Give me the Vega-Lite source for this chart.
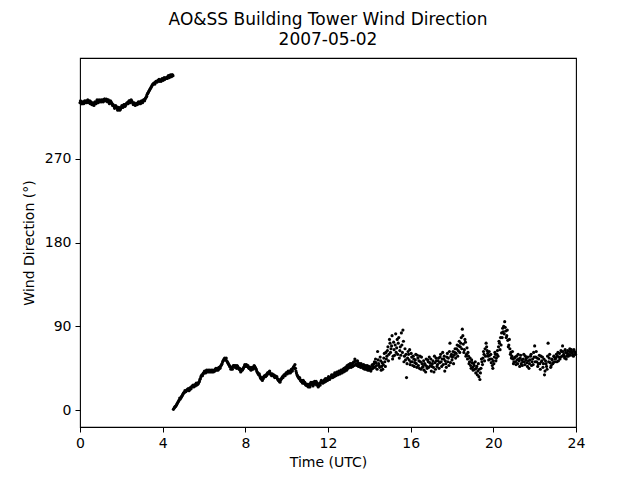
{
"$schema": "https://vega.github.io/schema/vega-lite/v6.json",
"width": 496, "height": 369,
"autosize": {"type": "none"},
"padding": {"left": 80, "top": 58, "right": 64, "bottom": 53},
"background": "white",
"config": {"view": {"stroke": "black", "strokeWidth": 1.1}, "font": "DejaVu Sans"},
"title": {"text": ["AO&SS Building Tower Wind Direction", "2007-05-02"], "fontSize": 17, "font": "DejaVu Sans", "fontWeight": "normal", "color": "black", "anchor": "middle", "lineHeight": 20, "offset": 9},
"data": {"values": [
{"t":0.00,"d":330},{"t":0.05,"d":331},{"t":0.10,"d":329},{"t":0.15,"d":330},{"t":0.20,"d":331},{"t":0.25,"d":330},{"t":0.30,"d":332},{"t":0.35,"d":331},{"t":0.40,"d":332},{"t":0.45,"d":331},
{"t":0.50,"d":329},{"t":0.55,"d":330},{"t":0.60,"d":328},{"t":0.65,"d":329},{"t":0.70,"d":329},{"t":0.75,"d":330},{"t":0.80,"d":331},{"t":0.85,"d":332},{"t":0.90,"d":331},{"t":0.95,"d":332},
{"t":1.00,"d":332},{"t":1.05,"d":331},{"t":1.10,"d":333},{"t":1.15,"d":332},{"t":1.20,"d":334},{"t":1.25,"d":333},{"t":1.30,"d":333},{"t":1.35,"d":332},{"t":1.40,"d":331},{"t":1.45,"d":330},
{"t":1.50,"d":331},{"t":1.55,"d":329},{"t":1.60,"d":328},{"t":1.65,"d":326},{"t":1.70,"d":325},{"t":1.75,"d":326},{"t":1.80,"d":324},{"t":1.85,"d":323},{"t":1.90,"d":324},{"t":1.95,"d":323},
{"t":2.00,"d":325},{"t":2.05,"d":326},{"t":2.10,"d":327},{"t":2.15,"d":328},{"t":2.20,"d":327},{"t":2.25,"d":329},{"t":2.30,"d":330},{"t":2.35,"d":331},{"t":2.40,"d":332},{"t":2.45,"d":331},
{"t":2.50,"d":332},{"t":2.55,"d":330},{"t":2.60,"d":329},{"t":2.65,"d":328},{"t":2.70,"d":328},{"t":2.75,"d":329},{"t":2.80,"d":330},{"t":2.85,"d":329},{"t":2.90,"d":331},{"t":2.95,"d":330},
{"t":3.00,"d":331},{"t":3.05,"d":332},{"t":3.10,"d":333},{"t":3.15,"d":334},{"t":3.20,"d":336},{"t":3.25,"d":339},{"t":3.30,"d":341},{"t":3.35,"d":343},{"t":3.40,"d":345},{"t":3.45,"d":347},
{"t":3.50,"d":349},{"t":3.55,"d":350},{"t":3.60,"d":351},{"t":3.65,"d":352},{"t":3.70,"d":353},{"t":3.75,"d":353},{"t":3.80,"d":354},{"t":3.85,"d":353},{"t":3.90,"d":354},{"t":3.95,"d":355},
{"t":4.00,"d":355},{"t":4.05,"d":356},{"t":4.10,"d":355},{"t":4.15,"d":356},{"t":4.20,"d":357},{"t":4.25,"d":358},{"t":4.30,"d":358},{"t":4.35,"d":359},{"t":4.40,"d":359},{"t":4.45,"d":360},{"t":4.50,"d":359},
{"t":0.025,"d":332},{"t":0.075,"d":329},{"t":0.125,"d":331},{"t":0.175,"d":329},{"t":0.225,"d":332},{"t":0.275,"d":331},{"t":0.325,"d":330},{"t":0.375,"d":333},{"t":0.425,"d":330},{"t":0.475,"d":332},
{"t":0.525,"d":331},{"t":0.575,"d":328},{"t":0.625,"d":330},{"t":0.675,"d":327},{"t":0.725,"d":331},{"t":0.775,"d":329},{"t":0.825,"d":333},{"t":0.875,"d":330},{"t":0.925,"d":333},{"t":0.975,"d":331},
{"t":1.025,"d":333},{"t":1.075,"d":332},{"t":1.125,"d":331},{"t":1.175,"d":334},{"t":1.225,"d":332},{"t":1.275,"d":334},{"t":1.325,"d":331},{"t":1.375,"d":333},{"t":1.425,"d":329},{"t":1.475,"d":332},
{"t":1.525,"d":330},{"t":1.575,"d":327},{"t":1.625,"d":327},{"t":1.675,"d":324},{"t":1.725,"d":327},{"t":1.775,"d":325},{"t":1.825,"d":322},{"t":1.875,"d":325},{"t":1.925,"d":322},{"t":1.975,"d":324},
{"t":2.025,"d":327},{"t":2.075,"d":325},{"t":2.125,"d":328},{"t":2.175,"d":326},{"t":2.225,"d":328},{"t":2.275,"d":330},{"t":2.325,"d":329},{"t":2.375,"d":332},{"t":2.425,"d":330},{"t":2.475,"d":333},
{"t":2.525,"d":331},{"t":2.575,"d":328},{"t":2.625,"d":330},{"t":2.675,"d":327},{"t":2.725,"d":329},{"t":2.775,"d":328},{"t":2.825,"d":331},{"t":2.875,"d":330},{"t":2.925,"d":329},{"t":2.975,"d":332},
{"t":3.025,"d":330},{"t":3.075,"d":333},{"t":3.125,"d":332},{"t":3.175,"d":335},{"t":3.225,"d":337},{"t":3.275,"d":340},{"t":3.325,"d":342},{"t":3.375,"d":344},{"t":3.425,"d":346},{"t":3.475,"d":348},
{"t":3.525,"d":350},{"t":3.575,"d":351},{"t":3.625,"d":350},{"t":3.675,"d":353},{"t":3.725,"d":352},{"t":3.775,"d":354},{"t":3.825,"d":355},{"t":3.875,"d":354},{"t":3.925,"d":353},{"t":3.975,"d":356},
{"t":4.025,"d":354},{"t":4.075,"d":357},{"t":4.125,"d":356},{"t":4.175,"d":357},{"t":4.225,"d":356},{"t":4.275,"d":359},{"t":4.325,"d":357},{"t":4.375,"d":360},{"t":4.425,"d":358},{"t":4.475,"d":360},
{"t":4.52,"d":1},{"t":4.55,"d":2},{"t":4.60,"d":4},{"t":4.65,"d":5},{"t":4.70,"d":7},{"t":4.75,"d":9},{"t":4.80,"d":11},{"t":4.85,"d":12},{"t":4.90,"d":14},{"t":4.95,"d":16},
{"t":5.00,"d":18},{"t":5.05,"d":19},{"t":5.10,"d":20},{"t":5.15,"d":21},{"t":5.20,"d":22},{"t":5.25,"d":23},{"t":5.30,"d":22},{"t":5.35,"d":24},{"t":5.40,"d":25},{"t":5.45,"d":26},
{"t":5.50,"d":25},{"t":5.55,"d":27},{"t":5.60,"d":28},{"t":5.65,"d":27},{"t":5.70,"d":28},{"t":5.75,"d":30},{"t":5.80,"d":33},{"t":5.85,"d":36},{"t":5.90,"d":38},{"t":5.95,"d":39},
{"t":6.00,"d":40},{"t":6.05,"d":41},{"t":6.10,"d":42},{"t":6.15,"d":41},{"t":6.20,"d":43},{"t":6.25,"d":42},{"t":6.30,"d":41},{"t":6.35,"d":43},{"t":6.40,"d":42},{"t":6.45,"d":41},
{"t":6.50,"d":43},{"t":6.55,"d":44},{"t":6.60,"d":43},{"t":6.65,"d":45},{"t":6.70,"d":44},{"t":6.75,"d":46},{"t":6.80,"d":47},{"t":6.85,"d":49},{"t":6.90,"d":52},{"t":6.95,"d":54},
{"t":7.00,"d":56},{"t":7.05,"d":55},{"t":7.10,"d":53},{"t":7.15,"d":51},{"t":7.20,"d":49},{"t":7.25,"d":47},{"t":7.30,"d":44},{"t":7.35,"d":45},{"t":7.40,"d":47},{"t":7.45,"d":48},
{"t":7.50,"d":46},{"t":7.55,"d":47},{"t":7.60,"d":48},{"t":7.65,"d":46},{"t":7.70,"d":44},{"t":7.75,"d":43},{"t":7.80,"d":42},{"t":7.85,"d":43},{"t":7.90,"d":45},{"t":7.95,"d":47},
{"t":8.00,"d":48},{"t":8.05,"d":49},{"t":8.10,"d":47},{"t":8.15,"d":46},{"t":8.20,"d":45},{"t":8.25,"d":44},{"t":8.30,"d":44},{"t":8.35,"d":45},{"t":8.40,"d":46},{"t":8.45,"d":47},
{"t":8.50,"d":45},{"t":8.55,"d":42},{"t":8.60,"d":40},{"t":8.65,"d":38},{"t":8.70,"d":37},{"t":8.75,"d":34},{"t":8.80,"d":33},{"t":8.85,"d":35},{"t":8.90,"d":36},{"t":8.95,"d":37},
{"t":9.00,"d":38},{"t":9.05,"d":39},{"t":9.10,"d":40},{"t":9.15,"d":41},{"t":9.20,"d":40},{"t":9.25,"d":38},{"t":9.30,"d":39},{"t":9.35,"d":37},{"t":9.40,"d":36},{"t":9.45,"d":37},
{"t":9.50,"d":35},{"t":9.55,"d":34},{"t":9.60,"d":32},{"t":9.65,"d":31},{"t":9.70,"d":32},{"t":9.75,"d":34},{"t":9.80,"d":36},{"t":9.85,"d":37},{"t":9.90,"d":38},{"t":9.95,"d":39},
{"t":10.00,"d":40},{"t":10.05,"d":41},{"t":10.10,"d":40},{"t":10.15,"d":42},{"t":10.20,"d":41},{"t":10.25,"d":43},{"t":10.30,"d":45},{"t":10.35,"d":47},{"t":10.40,"d":49},{"t":10.45,"d":42},
{"t":10.50,"d":38},{"t":10.55,"d":36},{"t":10.60,"d":34},{"t":10.65,"d":33},{"t":10.70,"d":31},{"t":10.75,"d":30},{"t":10.80,"d":32},{"t":10.85,"d":29},{"t":10.90,"d":28},{"t":10.95,"d":27},
{"t":11.00,"d":26},{"t":11.05,"d":25},{"t":11.10,"d":28},{"t":11.15,"d":27},{"t":11.20,"d":29},{"t":11.25,"d":30},{"t":11.30,"d":28},{"t":11.35,"d":31},{"t":11.40,"d":29},{"t":11.45,"d":27},
{"t":11.50,"d":28},{"t":11.55,"d":26},{"t":11.60,"d":29},{"t":11.65,"d":30},{"t":11.70,"d":31},{"t":11.75,"d":29},{"t":11.80,"d":32},{"t":11.85,"d":33},{"t":11.90,"d":31},{"t":11.95,"d":34},
{"t":12.00,"d":33},{"t":12.05,"d":35},{"t":12.10,"d":34},{"t":12.15,"d":36},{"t":12.20,"d":37},{"t":12.25,"d":38},{"t":12.30,"d":36},{"t":12.35,"d":39},{"t":12.40,"d":38},{"t":12.45,"d":40},
{"t":12.50,"d":39},{"t":12.55,"d":41},{"t":12.60,"d":40},{"t":12.65,"d":42},{"t":12.70,"d":43},{"t":12.75,"d":41},{"t":12.80,"d":44},{"t":12.85,"d":46},{"t":12.90,"d":43},{"t":12.95,"d":47},
{"t":13.00,"d":49},{"t":13.05,"d":46},{"t":13.10,"d":48},{"t":13.15,"d":50},{"t":13.20,"d":47},{"t":13.25,"d":52},{"t":13.30,"d":55},{"t":13.35,"d":50},{"t":13.40,"d":48},{"t":13.45,"d":51},
{"t":13.50,"d":49},{"t":13.55,"d":47},{"t":13.60,"d":50},{"t":13.65,"d":48},{"t":13.70,"d":45},{"t":13.75,"d":47},{"t":13.80,"d":46},{"t":13.85,"d":44},{"t":13.90,"d":48},{"t":13.95,"d":45},
{"t":14.00,"d":43},{"t":14.05,"d":46},{"t":14.10,"d":44},{"t":14.15,"d":49},{"t":14.20,"d":47},{"t":14.25,"d":52},{"t":14.30,"d":55},{"t":14.35,"d":48},{"t":14.40,"d":63},{"t":14.45,"d":50},
{"t":14.50,"d":46},{"t":14.55,"d":53},{"t":14.60,"d":47},{"t":14.65,"d":44},{"t":14.70,"d":56},{"t":14.75,"d":52},{"t":14.80,"d":62},{"t":14.85,"d":58},{"t":14.90,"d":68},{"t":14.95,"d":60},
{"t":15.00,"d":72},{"t":15.05,"d":66},{"t":15.10,"d":80},{"t":15.15,"d":58},{"t":15.20,"d":65},{"t":15.25,"d":70},{"t":15.30,"d":62},{"t":15.35,"d":76},{"t":15.40,"d":72},{"t":15.45,"d":56},
{"t":15.50,"d":68},{"t":15.55,"d":83},{"t":15.60,"d":62},{"t":15.65,"d":74},{"t":15.70,"d":58},{"t":15.75,"d":54},{"t":15.80,"d":35},{"t":15.85,"d":56},{"t":15.90,"d":60},{"t":15.95,"d":65},
{"t":16.00,"d":52},{"t":16.05,"d":57},{"t":16.10,"d":48},{"t":16.15,"d":55},{"t":16.20,"d":51},{"t":16.25,"d":60},{"t":16.30,"d":46},{"t":16.35,"d":56},{"t":16.40,"d":53},{"t":16.45,"d":58},
{"t":16.50,"d":44},{"t":16.55,"d":50},{"t":16.60,"d":47},{"t":16.65,"d":43},{"t":16.70,"d":49},{"t":16.75,"d":55},{"t":16.80,"d":45},{"t":16.85,"d":52},{"t":16.90,"d":57},{"t":16.95,"d":48},
{"t":17.00,"d":42},{"t":17.05,"d":50},{"t":17.10,"d":46},{"t":17.15,"d":58},{"t":17.20,"d":44},{"t":17.25,"d":53},{"t":17.30,"d":49},{"t":17.35,"d":56},{"t":17.40,"d":51},{"t":17.45,"d":60},
{"t":17.50,"d":47},{"t":17.55,"d":62},{"t":17.60,"d":55},{"t":17.65,"d":42},{"t":17.70,"d":50},{"t":17.75,"d":57},{"t":17.80,"d":52},{"t":17.85,"d":48},{"t":17.90,"d":72},{"t":17.95,"d":58},
{"t":18.00,"d":54},{"t":18.05,"d":63},{"t":18.10,"d":59},{"t":18.15,"d":66},{"t":18.20,"d":61},{"t":18.25,"d":70},{"t":18.30,"d":64},{"t":18.35,"d":74},{"t":18.40,"d":68},{"t":18.45,"d":78},
{"t":18.50,"d":87},{"t":18.55,"d":71},{"t":18.60,"d":65},{"t":18.65,"d":73},{"t":18.70,"d":60},{"t":18.75,"d":55},{"t":18.80,"d":58},{"t":18.85,"d":52},{"t":18.90,"d":48},{"t":18.95,"d":54},
{"t":19.00,"d":46},{"t":19.05,"d":50},{"t":19.10,"d":44},{"t":19.15,"d":40},{"t":19.20,"d":47},{"t":19.25,"d":42},{"t":19.30,"d":36},{"t":19.35,"d":33},{"t":19.40,"d":45},{"t":19.45,"d":52},
{"t":19.50,"d":56},{"t":19.55,"d":60},{"t":19.60,"d":66},{"t":19.65,"d":72},{"t":19.70,"d":64},{"t":19.75,"d":58},{"t":19.80,"d":63},{"t":19.85,"d":55},{"t":19.90,"d":51},{"t":19.95,"d":48},
{"t":20.00,"d":53},{"t":20.05,"d":57},{"t":20.10,"d":60},{"t":20.15,"d":56},{"t":20.20,"d":64},{"t":20.25,"d":68},{"t":20.30,"d":72},{"t":20.35,"d":78},{"t":20.40,"d":83},{"t":20.45,"d":88},
{"t":20.50,"d":90},{"t":20.55,"d":95},{"t":20.60,"d":85},{"t":20.65,"d":80},{"t":20.70,"d":75},{"t":20.75,"d":70},{"t":20.80,"d":66},{"t":20.85,"d":62},{"t":20.90,"d":58},{"t":20.95,"d":55},
{"t":21.00,"d":52},{"t":21.05,"d":57},{"t":21.10,"d":49},{"t":21.15,"d":54},{"t":21.20,"d":60},{"t":21.25,"d":53},{"t":21.30,"d":56},{"t":21.35,"d":50},{"t":21.40,"d":48},{"t":21.45,"d":55},
{"t":21.50,"d":52},{"t":21.55,"d":58},{"t":21.60,"d":56},{"t":21.65,"d":47},{"t":21.70,"d":53},{"t":21.75,"d":50},{"t":21.80,"d":58},{"t":21.85,"d":48},{"t":21.90,"d":55},{"t":21.95,"d":62},
{"t":22.00,"d":69},{"t":22.05,"d":57},{"t":22.10,"d":52},{"t":22.15,"d":47},{"t":22.20,"d":55},{"t":22.25,"d":50},{"t":22.30,"d":58},{"t":22.35,"d":53},{"t":22.40,"d":46},{"t":22.45,"d":55},
{"t":22.50,"d":42},{"t":22.55,"d":50},{"t":22.60,"d":44},{"t":22.65,"d":72},{"t":22.70,"d":56},{"t":22.75,"d":51},{"t":22.80,"d":48},{"t":22.85,"d":54},{"t":22.90,"d":51},{"t":22.95,"d":57},
{"t":23.00,"d":55},{"t":23.05,"d":60},{"t":23.10,"d":58},{"t":23.15,"d":53},{"t":23.20,"d":61},{"t":23.25,"d":57},{"t":23.30,"d":63},{"t":23.35,"d":69},{"t":23.40,"d":60},{"t":23.45,"d":56},
{"t":23.50,"d":62},{"t":23.55,"d":58},{"t":23.60,"d":64},{"t":23.65,"d":60},{"t":23.70,"d":66},{"t":23.75,"d":62},{"t":23.80,"d":63},{"t":23.85,"d":59},{"t":23.90,"d":65},{"t":23.95,"d":62},
{"t":4.575,"d":3},{"t":4.625,"d":4},{"t":4.675,"d":6},{"t":4.725,"d":8},{"t":4.775,"d":10},{"t":4.825,"d":13},{"t":4.875,"d":13},{"t":4.925,"d":15},{"t":4.975,"d":17},
{"t":5.025,"d":19},{"t":5.075,"d":21},{"t":5.125,"d":20},{"t":5.175,"d":22},{"t":5.225,"d":23},{"t":5.275,"d":21},{"t":5.325,"d":24},{"t":5.375,"d":23},{"t":5.425,"d":26},{"t":5.475,"d":27},
{"t":5.525,"d":26},{"t":5.575,"d":26},{"t":5.625,"d":29},{"t":5.675,"d":28},{"t":5.725,"d":29},{"t":5.775,"d":31},{"t":5.825,"d":34},{"t":5.875,"d":37},{"t":5.925,"d":37},{"t":5.975,"d":40},
{"t":6.025,"d":42},{"t":6.075,"d":40},{"t":6.125,"d":43},{"t":6.175,"d":42},{"t":6.225,"d":41},{"t":6.275,"d":43},{"t":6.325,"d":42},{"t":6.375,"d":41},{"t":6.425,"d":43},{"t":6.475,"d":42},
{"t":6.525,"d":42},{"t":6.575,"d":45},{"t":6.625,"d":44},{"t":6.675,"d":43},{"t":6.725,"d":46},{"t":6.775,"d":45},{"t":6.825,"d":48},{"t":6.875,"d":50},{"t":6.925,"d":53},{"t":6.975,"d":55},
{"t":7.025,"d":54},{"t":7.075,"d":56},{"t":7.125,"d":52},{"t":7.175,"d":50},{"t":7.225,"d":48},{"t":7.275,"d":46},{"t":7.325,"d":46},{"t":7.375,"d":44},{"t":7.425,"d":48},{"t":7.475,"d":47},
{"t":7.525,"d":48},{"t":7.575,"d":45},{"t":7.625,"d":47},{"t":7.675,"d":45},{"t":7.725,"d":45},{"t":7.775,"d":41},{"t":7.825,"d":44},{"t":7.875,"d":44},{"t":7.925,"d":46},{"t":7.975,"d":49},
{"t":8.025,"d":47},{"t":8.075,"d":48},{"t":8.125,"d":48},{"t":8.175,"d":45},{"t":8.225,"d":46},{"t":8.275,"d":43},{"t":8.325,"d":46},{"t":8.375,"d":44},{"t":8.425,"d":48},{"t":8.475,"d":46},
{"t":8.525,"d":44},{"t":8.575,"d":41},{"t":8.625,"d":39},{"t":8.675,"d":39},{"t":8.725,"d":35},{"t":8.775,"d":35},{"t":8.825,"d":32},{"t":8.875,"d":34},{"t":8.925,"d":37},{"t":8.975,"d":36},
{"t":9.025,"d":37},{"t":9.075,"d":40},{"t":9.125,"d":39},{"t":9.175,"d":42},{"t":9.225,"d":39},{"t":9.275,"d":37},{"t":9.325,"d":38},{"t":9.375,"d":38},{"t":9.425,"d":35},{"t":9.475,"d":36},
{"t":9.525,"d":36},{"t":9.575,"d":33},{"t":9.625,"d":33},{"t":9.675,"d":30},{"t":9.725,"d":33},{"t":9.775,"d":35},{"t":9.825,"d":35},{"t":9.875,"d":38},{"t":9.925,"d":37},{"t":9.975,"d":40},
{"t":10.025,"d":39},{"t":10.075,"d":42},{"t":10.125,"d":41},{"t":10.175,"d":40},{"t":10.225,"d":44},{"t":10.275,"d":42},{"t":10.325,"d":46},{"t":10.375,"d":45},{"t":10.425,"d":45},{"t":10.475,"d":40},
{"t":10.525,"d":37},{"t":10.575,"d":35},{"t":10.625,"d":35},{"t":10.675,"d":32},{"t":10.725,"d":32},{"t":10.775,"d":29},{"t":10.825,"d":31},{"t":10.875,"d":30},{"t":10.925,"d":27},{"t":10.975,"d":28},
{"t":11.025,"d":27},{"t":11.075,"d":26},{"t":11.125,"d":25},{"t":11.175,"d":30},{"t":11.225,"d":28},{"t":11.275,"d":26},{"t":11.325,"d":30},{"t":11.375,"d":28},{"t":11.425,"d":31},{"t":11.475,"d":29},
{"t":11.525,"d":25},{"t":11.575,"d":28},{"t":11.625,"d":27},{"t":11.675,"d":32},{"t":11.725,"d":30},{"t":11.775,"d":31},{"t":11.825,"d":30},{"t":11.875,"d":34},{"t":11.925,"d":33},{"t":11.975,"d":32},
{"t":12.025,"d":36},{"t":12.075,"d":33},{"t":12.125,"d":35},{"t":12.175,"d":38},{"t":12.225,"d":35},{"t":12.275,"d":37},{"t":12.325,"d":40},{"t":12.375,"d":37},{"t":12.425,"d":41},{"t":12.475,"d":38},
{"t":12.525,"d":42},{"t":12.575,"d":39},{"t":12.625,"d":43},{"t":12.675,"d":40},{"t":12.725,"d":44},{"t":12.775,"d":45},{"t":12.825,"d":42},{"t":12.875,"d":45},{"t":12.925,"d":48},{"t":12.975,"d":45},
{"t":13.025,"d":47},{"t":13.075,"d":50},{"t":13.125,"d":46},{"t":13.175,"d":49},{"t":13.225,"d":51},{"t":13.275,"d":48},{"t":13.325,"d":53},{"t":13.375,"d":49},{"t":13.425,"d":53},{"t":13.475,"d":47},
{"t":13.525,"d":50},{"t":13.575,"d":46},{"t":13.625,"d":49},{"t":13.675,"d":46},{"t":13.725,"d":49},{"t":13.775,"d":44},{"t":13.825,"d":48},{"t":13.875,"d":46},{"t":13.925,"d":43},{"t":13.975,"d":47},
{"t":14.025,"d":45},{"t":14.075,"d":42},{"t":14.125,"d":48},{"t":14.175,"d":45},{"t":14.225,"d":50},{"t":14.275,"d":46},{"t":14.325,"d":51},{"t":14.375,"d":44},{"t":14.425,"d":54},{"t":14.475,"d":48},
{"t":14.525,"d":57},{"t":14.575,"d":43},{"t":14.625,"d":51},{"t":14.675,"d":49},{"t":14.725,"d":61},{"t":14.775,"d":47},{"t":14.825,"d":55},{"t":14.875,"d":64},{"t":14.925,"d":53},{"t":14.975,"d":76},
{"t":15.025,"d":62},{"t":15.075,"d":69},{"t":15.125,"d":55},{"t":15.175,"d":73},{"t":15.225,"d":59},{"t":15.275,"d":82},{"t":15.325,"d":67},{"t":15.375,"d":60},{"t":15.425,"d":78},{"t":15.475,"d":64},
{"t":15.525,"d":59},{"t":15.575,"d":70},{"t":15.625,"d":86},{"t":15.675,"d":52},{"t":15.725,"d":66},{"t":15.775,"d":60},{"t":15.825,"d":50},{"t":15.875,"d":63},{"t":15.925,"d":54},{"t":15.975,"d":49},
{"t":16.025,"d":61},{"t":16.075,"d":52},{"t":16.125,"d":58},{"t":16.175,"d":47},{"t":16.225,"d":54},{"t":16.275,"d":50},{"t":16.325,"d":59},{"t":16.375,"d":48},{"t":16.425,"d":45},{"t":16.475,"d":52},
{"t":16.525,"d":57},{"t":16.575,"d":46},{"t":16.625,"d":53},{"t":16.675,"d":50},{"t":16.725,"d":41},{"t":16.775,"d":47},{"t":16.825,"d":54},{"t":16.875,"d":46},{"t":16.925,"d":51},{"t":16.975,"d":55},
{"t":17.025,"d":47},{"t":17.075,"d":53},{"t":17.125,"d":41},{"t":17.175,"d":51},{"t":17.225,"d":56},{"t":17.275,"d":47},{"t":17.325,"d":53},{"t":17.375,"d":45},{"t":17.425,"d":57},{"t":17.475,"d":52},
{"t":17.525,"d":55},{"t":17.575,"d":49},{"t":17.625,"d":58},{"t":17.675,"d":53},{"t":17.725,"d":46},{"t":17.775,"d":61},{"t":17.825,"d":56},{"t":17.875,"d":63},{"t":17.925,"d":51},{"t":17.975,"d":60},
{"t":18.025,"d":57},{"t":18.075,"d":50},{"t":18.125,"d":62},{"t":18.175,"d":56},{"t":18.225,"d":66},{"t":18.275,"d":58},{"t":18.325,"d":69},{"t":18.375,"d":62},{"t":18.425,"d":72},{"t":18.475,"d":66},
{"t":18.525,"d":80},{"t":18.575,"d":62},{"t":18.625,"d":76},{"t":18.675,"d":58},{"t":18.725,"d":67},{"t":18.775,"d":62},{"t":18.825,"d":50},{"t":18.875,"d":56},{"t":18.925,"d":45},{"t":18.975,"d":51},
{"t":19.025,"d":43},{"t":19.075,"d":48},{"t":19.125,"d":52},{"t":19.175,"d":45},{"t":19.225,"d":38},{"t":19.275,"d":50},{"t":19.325,"d":44},{"t":19.375,"d":40},{"t":19.425,"d":55},{"t":19.475,"d":49},
{"t":19.525,"d":63},{"t":19.575,"d":53},{"t":19.625,"d":58},{"t":19.675,"d":68},{"t":19.725,"d":61},{"t":19.775,"d":54},{"t":19.825,"d":59},{"t":19.875,"d":60},{"t":19.925,"d":55},{"t":19.975,"d":45},
{"t":20.025,"d":50},{"t":20.075,"d":62},{"t":20.125,"d":53},{"t":20.175,"d":60},{"t":20.225,"d":58},{"t":20.275,"d":74},{"t":20.325,"d":65},{"t":20.375,"d":70},{"t":20.425,"d":78},{"t":20.475,"d":84},
{"t":20.525,"d":82},{"t":20.575,"d":89},{"t":20.625,"d":78},{"t":20.675,"d":86},{"t":20.725,"d":68},{"t":20.775,"d":76},{"t":20.825,"d":60},{"t":20.875,"d":56},{"t":20.925,"d":63},{"t":20.975,"d":50},
{"t":21.025,"d":56},{"t":21.075,"d":52},{"t":21.125,"d":58},{"t":21.175,"d":50},{"t":21.225,"d":55},{"t":21.275,"d":47},{"t":21.325,"d":59},{"t":21.375,"d":54},{"t":21.425,"d":52},{"t":21.475,"d":60},
{"t":21.525,"d":49},{"t":21.575,"d":54},{"t":21.625,"d":51},{"t":21.675,"d":57},{"t":21.725,"d":45},{"t":21.775,"d":54},{"t":21.825,"d":60},{"t":21.875,"d":52},{"t":21.925,"d":49},{"t":21.975,"d":57},
{"t":22.025,"d":52},{"t":22.075,"d":63},{"t":22.125,"d":56},{"t":22.175,"d":50},{"t":22.225,"d":59},{"t":22.275,"d":44},{"t":22.325,"d":52},{"t":22.375,"d":57},{"t":22.425,"d":50},{"t":22.475,"d":38},
{"t":22.525,"d":53},{"t":22.575,"d":47},{"t":22.625,"d":58},{"t":22.675,"d":52},{"t":22.725,"d":60},{"t":22.775,"d":46},{"t":22.825,"d":55},{"t":22.875,"d":50},{"t":22.925,"d":58},{"t":22.975,"d":52},
{"t":23.025,"d":56},{"t":23.075,"d":52},{"t":23.125,"d":62},{"t":23.175,"d":57},{"t":23.225,"d":55},{"t":23.275,"d":64},{"t":23.325,"d":58},{"t":23.375,"d":63},{"t":23.425,"d":58},{"t":23.475,"d":65},
{"t":23.525,"d":55},{"t":23.575,"d":61},{"t":23.625,"d":58},{"t":23.675,"d":63},{"t":23.725,"d":59},{"t":23.775,"d":65},{"t":23.825,"d":61},{"t":23.875,"d":58},{"t":23.925,"d":63},{"t":23.975,"d":60}
]},
"mark": {"type": "point", "filled": true, "color": "black", "size": 10, "opacity": 1},
"encoding": {
"x": {"field": "t", "type": "quantitative", "scale": {"domain": [0, 24], "nice": false, "zero": false},
 "axis": {"title": "Time (UTC)", "values": [0,4,8,12,16,20,24], "grid": false, "domain": false, "tickColor": "black", "tickSize": 5, "tickWidth": 1, "labelColor": "black", "labelFontSize": 14, "labelFont": "DejaVu Sans", "labelPadding": 4, "titleFont": "DejaVu Sans", "titleFontSize": 14, "titleFontWeight": "normal", "titleColor": "black", "titlePadding": 5, "labelFlush": false}},
"y": {"field": "d", "type": "quantitative", "scale": {"domain": [-18, 378], "nice": false, "zero": false},
 "axis": {"title": "Wind Direction (°)", "values": [0,90,180,270], "grid": false, "domain": false, "tickColor": "black", "tickSize": 5, "tickWidth": 1, "labelColor": "black", "labelFontSize": 14, "labelFont": "DejaVu Sans", "labelPadding": 4, "titleFont": "DejaVu Sans", "titleFontSize": 14, "titleFontWeight": "normal", "titleColor": "black", "titlePadding": 8, "labelFlush": false}}
}
}
